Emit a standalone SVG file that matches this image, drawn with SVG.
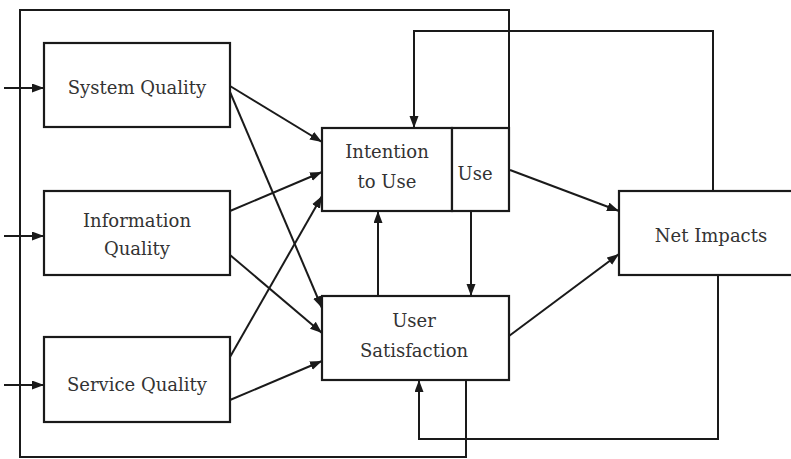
<svg xmlns="http://www.w3.org/2000/svg" width="791" height="459" viewBox="0 0 791 459">
<defs>
<marker id="arr" markerWidth="13" markerHeight="10" refX="12" refY="4.5" orient="auto" markerUnits="userSpaceOnUse">
<path d="M0,0 L12,4.5 L0,9 z" fill="#1a1a1a"/>
</marker>
<style>
.box{fill:#fff;stroke:#1a1a1a;stroke-width:2.2}
.lbl{font-family:"DejaVu Serif","Liberation Serif",serif;font-size:18px;fill:#333;text-anchor:middle}
.ln{fill:none;stroke:#1a1a1a;stroke-width:2}
.ar{fill:none;stroke:#1a1a1a;stroke-width:2;marker-end:url(#arr)}
</style>
</defs>
<rect width="791" height="459" fill="#fff"/>
<g id="frame">
<path class="ln" d="M509,128 V10 H20 V457 H466 V380"/>
</g>
<g id="system-quality">
<rect class="box" x="44" y="43" width="186" height="84"/>
<text class="lbl" x="137" y="94">System Quality</text>
</g>
<g id="information-quality">
<rect class="box" x="44" y="191" width="186" height="84"/>
<text class="lbl" x="137" y="227">Information</text>
<text class="lbl" x="137" y="255">Quality</text>
</g>
<g id="service-quality">
<rect class="box" x="44" y="337" width="186" height="85"/>
<text class="lbl" x="137" y="391">Service Quality</text>
</g>
<g id="intention-to-use">
<rect class="box" x="322" y="128" width="130" height="83"/>
<text class="lbl" x="387" y="158">Intention</text>
<text class="lbl" x="387" y="188">to Use</text>
</g>
<g id="use">
<rect class="box" x="452" y="128" width="57" height="83"/>
<text class="lbl" x="475" y="180">Use</text>
</g>
<g id="user-satisfaction">
<rect class="box" x="322" y="296" width="187" height="84"/>
<text class="lbl" x="414" y="327">User</text>
<text class="lbl" x="414" y="357">Satisfaction</text>
</g>
<g id="net-impacts">
<rect class="box" x="619" y="191" width="190" height="84"/>
<text class="lbl" x="711" y="242">Net Impacts</text>
</g>
<g id="connectors">
<path class="ar" d="M4,88 H44"/>
<path class="ar" d="M4,236 H44"/>
<path class="ar" d="M4,385 H44"/>
<path class="ar" d="M230,86 L322,142"/>
<path class="ar" d="M230,92 L322,308"/>
<path class="ar" d="M230,211 L322,172"/>
<path class="ar" d="M230,255 L322,333"/>
<path class="ar" d="M230,357 L322,196"/>
<path class="ar" d="M230,400 L322,361"/>
<path class="ar" d="M378,296 V211"/>
<path class="ar" d="M471,211 V296"/>
<path class="ar" d="M510,170 L619,211"/>
<path class="ar" d="M509,336 L619,254"/>
<path class="ar" d="M713,191 V31 H414 V128"/>
<path class="ar" d="M718,275 V439 H419 V380"/>
</g>
</svg>
